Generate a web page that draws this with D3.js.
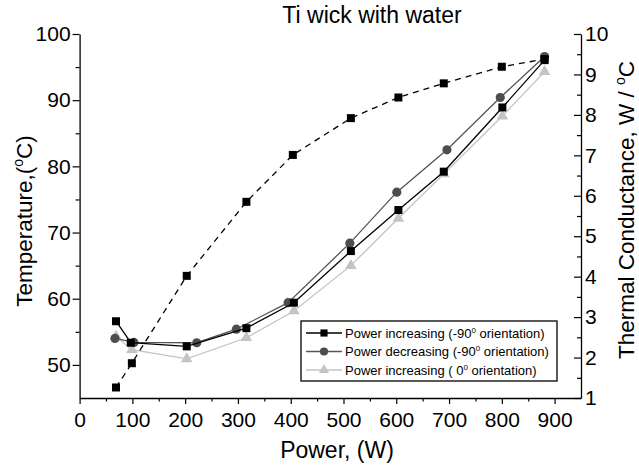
<!DOCTYPE html>
<html>
<head>
<meta charset="utf-8">
<script src="https://cdn.jsdelivr.net/npm/d3@7"></script>
<style>
  body { margin: 0; background: #fff; }
  svg { display: block; font-family: "Liberation Sans", Arial, sans-serif; }
</style>
</head>
<body>
<svg id="chart" width="639" height="470"></svg>
<script>
// ---- data ----
const powerInc90 = [69, 97, 203, 316, 406, 514, 604, 690, 801, 881];
const tempInc90  = [56.6, 53.35, 52.8, 55.55, 59.4, 67.2, 73.4, 79.2, 88.9, 96.05];

const powerDec90 = [67, 103, 222, 297, 395, 512, 601, 696, 797, 881];
const tempDec90  = [54.0, 53.4, 53.35, 55.4, 59.4, 68.4, 76.1, 82.5, 90.4, 96.6];

const powerInc0  = [69, 99, 203, 316, 406, 514, 604, 690, 801, 881];
const tempInc0   = [54.3, 52.3, 50.9, 54.1, 58.15, 65.0, 72.15, 78.85, 87.6, 94.3];

const powerCond  = [69, 99, 203, 316, 404, 514, 604, 690, 800, 881];
const conductance = [1.26, 1.86, 4.02, 5.85, 7.01, 7.92, 8.43, 8.78, 9.19, 9.38];

const xTicks = [0, 100, 200, 300, 400, 500, 600, 700, 800, 900];
const xMinor = [50, 150, 250, 350, 450, 550, 650, 750, 850];
const yLTicks = [50, 60, 70, 80, 90, 100];
const yLMinor = [55, 65, 75, 85, 95];
const yRTicks = [1, 2, 3, 4, 5, 6, 7, 8, 9, 10];
const yRMinor = [1.5, 2.5, 3.5, 4.5, 5.5, 6.5, 7.5, 8.5, 9.5];

const legendLabels = ["Power increasing (-90", "Power decreasing (-90", "Power increasing ( 0"];

// ---- layout ----
const svg = d3.select("#chart");
const L = 79.6, R = 581, T = 34, B = 398;

const x = d3.scaleLinear().domain([0, 950]).range([L, R]);
const yL = d3.scaleLinear().domain([45, 100]).range([B, T]);
const yR = d3.scaleLinear().domain([1, 10]).range([B, T]);

function styleAxis(g) {
  g.selectAll("path.domain").attr("stroke", "#000").attr("stroke-width", 1.3);
  g.selectAll(".tick line").attr("stroke", "#000").attr("stroke-width", 1.2);
  g.selectAll(".tick text").attr("fill", "#000").style("font-family", '"Liberation Sans", Arial, sans-serif');
}

// bottom axis
const gx = svg.append("g").attr("transform", `translate(0,${B})`)
  .call(d3.axisBottom(x).tickValues(xTicks).tickSize(6).tickSizeOuter(0).tickPadding(8).tickFormat(d3.format("d")));
gx.selectAll("text").attr("font-size", 21);
styleAxis(gx);
const gxm = svg.append("g").attr("transform", `translate(0,${B})`)
  .call(d3.axisBottom(x).tickValues(xMinor).tickSize(3.5).tickSizeOuter(0).tickFormat(""));
gxm.select("path.domain").remove();
styleAxis(gxm);

// left axis
const gl = svg.append("g").attr("transform", `translate(${L},0)`)
  .call(d3.axisLeft(yL).tickValues(yLTicks).tickSize(7).tickSizeOuter(0).tickPadding(2));
gl.selectAll("text").attr("font-size", 21);
styleAxis(gl);
const glm = svg.append("g").attr("transform", `translate(${L},0)`)
  .call(d3.axisLeft(yL).tickValues(yLMinor).tickSize(4).tickSizeOuter(0).tickFormat(""));
glm.select("path.domain").remove();
styleAxis(glm);

// right axis (ticks inward)
const gr = svg.append("g").attr("transform", `translate(${R},0)`)
  .call(d3.axisRight(yR).tickValues(yRTicks).tickSize(-7).tickSizeOuter(0).tickPadding(4));
gr.selectAll("text").attr("font-size", 21);
styleAxis(gr);
const grm = svg.append("g").attr("transform", `translate(${R},0)`)
  .call(d3.axisRight(yR).tickValues(yRMinor).tickSize(-4).tickSizeOuter(0).tickFormat(""));
grm.select("path.domain").remove();
styleAxis(grm);

// ---- series ----
const series = [
  { xs: powerInc0,  ys: tempInc0,  y: yL, color: "#c4c4c4", fill: "#c4c4c4", sym: d3.symbolTriangle, size: 58, dash: null },
  { xs: powerDec90, ys: tempDec90, y: yL, color: "#555555", fill: "#4d4d4d", sym: d3.symbolCircle, size: 66, dash: null },
  { xs: powerInc90, ys: tempInc90, y: yL, color: "#000000", fill: "#000000", sym: d3.symbolSquare, size: 64, dash: null },
  { xs: powerCond,  ys: conductance, y: yR, color: "#000000", fill: "#000000", sym: d3.symbolSquare, size: 64, dash: "6,5" }
];

series.forEach(s => {
  const pts = s.xs.map((v, i) => [v, s.ys[i]]);
  const line = d3.line().x(d => x(d[0])).y(d => s.y(d[1]));
  svg.append("path").datum(pts)
    .attr("d", line).attr("fill", "none")
    .attr("stroke", s.color).attr("stroke-width", 1.3)
    .attr("stroke-dasharray", s.dash);
  svg.append("g").selectAll("path").data(pts).join("path")
    .attr("transform", d => `translate(${x(d[0])},${s.y(d[1])})`)
    .attr("d", d3.symbol().type(s.sym).size(s.size))
    .attr("fill", s.fill);
});

// ---- title ----
svg.append("text").attr("x", 372).attr("y", 23).attr("text-anchor", "middle")
  .attr("font-size", 23).attr("fill", "#000").text("Ti wick with water");

// x title
svg.append("text").attr("x", 337).attr("y", 458).attr("text-anchor", "middle")
  .attr("font-size", 23).attr("fill", "#000").text("Power, (W)");

// left title
const lt = svg.append("text").attr("transform", "translate(32,221) rotate(-90)")
  .attr("text-anchor", "middle").attr("font-size", 22.5).attr("fill", "#000");
lt.append("tspan").text("Temperature,(");
lt.append("tspan").attr("dy", -9).attr("font-size", 14).text("o");
lt.append("tspan").attr("dy", 9).text("C)");

// right title
const rt = svg.append("text").attr("transform", "translate(634,210) rotate(-90)")
  .attr("text-anchor", "middle").attr("font-size", 22.5).attr("fill", "#000");
rt.append("tspan").text("Thermal Conductance, W / ");
rt.append("tspan").attr("dy", -9).attr("font-size", 14).text("o");
rt.append("tspan").attr("dy", 9).text("C");

// ---- legend ----
const lg = svg.append("g");
lg.append("rect").attr("x", 301).attr("y", 321).attr("width", 256).attr("height", 60)
  .attr("fill", "#fff").attr("stroke", "#000").attr("stroke-width", 1.3);
const legendStyles = [series[2], series[1], series[0]];
const rowY = [333, 351.5, 370];
legendStyles.forEach((s, i) => {
  lg.append("line").attr("x1", 306).attr("x2", 342).attr("y1", rowY[i]).attr("y2", rowY[i])
    .attr("stroke", s.color).attr("stroke-width", 1.3);
  lg.append("path").attr("transform", `translate(324,${rowY[i]})`)
    .attr("d", d3.symbol().type(s.sym).size(s.size * 0.8)).attr("fill", s.fill);
  const t = lg.append("text").attr("x", 345).attr("y", rowY[i] + 4.5)
    .attr("font-size", 13).attr("fill", "#000");
  t.append("tspan").text(legendLabels[i]);
  t.append("tspan").attr("dy", -5).attr("font-size", 8).text("0");
  t.append("tspan").attr("dy", 5).text(" orientation)");
});
</script>
</body>
</html>
